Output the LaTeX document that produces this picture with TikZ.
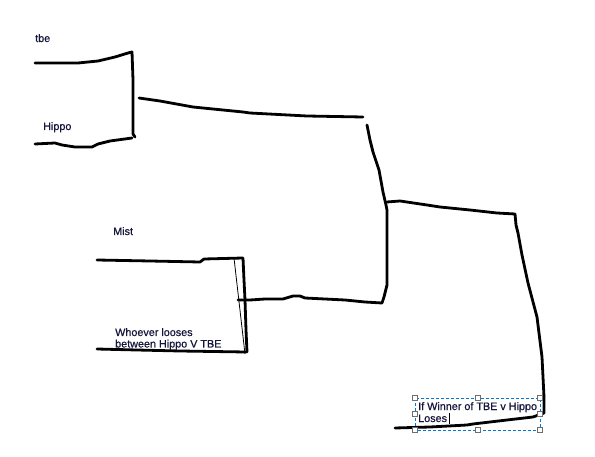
\documentclass[tikz,border=0pt]{standalone}
\usepackage{fontspec}
\setmainfont{Liberation Sans}[FakeBold=0.7]
\definecolor{inkblue}{RGB}{22,22,60}
\definecolor{selblue}{RGB}{0,120,215}
\definecolor{handlegray}{RGB}{110,110,110}
\begin{document}
\begin{tikzpicture}[x=1pt,y=-1pt,
  pen/.style={line width=2.8pt,line join=round,line cap=round,black},
  thinpen/.style={line width=0.8pt,black},
  lbl/.style={anchor=base west,inner sep=0pt,text=inkblue,font=\fontsize{10.8}{12}\selectfont},
  handle/.style={draw=handlegray,fill=white,line width=0.6pt,minimum size=4.5pt,inner sep=0pt,rectangle}]
\useasboundingbox (0,0) rectangle (595,457);
\fill[white] (0,0) rectangle (595,457);
% labels
\node[lbl] (tbe) at (35,42) {tbe};
\node[lbl] (hippo) at (43,130) {Hippo};
\node[lbl] (mist) at (113,235) {Mist};
\node[lbl] (who1) at (115,336) {Whoever looses};
\node[lbl] (who2) at (115,347.5) {between Hippo V TBE};
\node[lbl] (win1) at (418,410) {If Winner of TBE v Hippo};
\node[lbl] (win2) at (418,422) {Loses};
\draw[line width=0.7pt,black] (449,413) -- (449,424);
% first bracket
\draw[pen] (35,63) -- (78,63) -- (98,61) -- (115,57) -- (128,53) -- (132,52) -- (133,80) -- (133,134) -- (135,137);
\draw[pen] (35,144) -- (55,143) -- (62,145) -- (75,147) -- (92,147) -- (98,144) -- (110,141) -- (132,138);
\draw[pen] (139,98) -- (160,101) -- (193,107) -- (243,112) -- (250,113) -- (307,116) -- (363,117);
% semifinal right vertical and lower arm
\draw[pen] (367,125) -- (370,140) -- (373,152) -- (379,170) -- (383,192) -- (386,205) -- (387,210) -- (387,285) -- (384,297) -- (382,303) -- (365,302) -- (345,300) -- (305,298) -- (300,296) -- (293,296) -- (283,299) -- (265,299) -- (250,300) -- (238,300);
% mist bracket
\draw[pen] (97,260) -- (150,261) -- (200,262) -- (204,259) -- (243,258) -- (244,280) -- (245,300) -- (246,330) -- (247,352);
\draw[pen] (97,349) -- (137,350) -- (180,351) -- (246,352);
\draw[thinpen] (234,258) -- (245,354);
% final
\draw[pen] (387,202) -- (400,201) -- (427,205) -- (440,207) -- (470,210) -- (497,213) -- (515,214) -- (516,225) -- (518,233) -- (522,255) -- (528,283) -- (537,317) -- (542,357) -- (544,397) -- (544,413) -- (533,417) -- (507,420) -- (473,424) -- (467,425) -- (430,427) -- (395,428);
% selection box
\draw[selblue,line width=0.7pt,dash pattern=on 3pt off 2pt] (415,398) rectangle (540,430);
\foreach \n/\p in {h1/{(415,398)},h2/{(478,398)},h3/{(540,398)},h4/{(415,414)},h5/{(540,414)},h6/{(415,430)},h7/{(478,430)},h8/{(540,430)}}
  \node[handle] (\n) at \p {};
\end{tikzpicture}
\end{document}
